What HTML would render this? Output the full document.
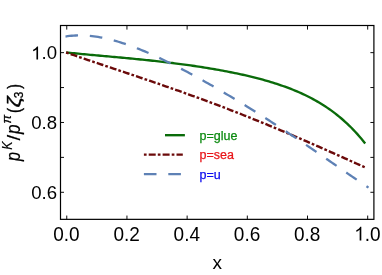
<!DOCTYPE html>
<html><head><meta charset="utf-8"><style>
html,body{margin:0;padding:0;background:#fff;}
svg{display:block;will-change:transform;font-family:"Liberation Sans",sans-serif;}
</style></head><body>
<svg width="382" height="275" viewBox="0 0 382 275">
<rect width="382" height="275" fill="#fff"/>
<g fill="none" stroke-linecap="butt" stroke-linejoin="round">
<path d="M66.25,52.50 L68.26,52.70 L70.26,52.90 L72.27,53.10 L74.28,53.29 L76.28,53.49 L78.29,53.68 L80.29,53.87 L82.30,54.06 L84.31,54.24 L86.31,54.43 L88.32,54.62 L90.33,54.80 L92.33,54.99 L94.34,55.17 L96.35,55.35 L98.35,55.53 L100.36,55.72 L102.36,55.90 L104.37,56.08 L106.38,56.26 L108.38,56.44 L110.39,56.62 L112.40,56.81 L114.40,56.99 L116.41,57.17 L118.42,57.36 L120.42,57.54 L122.43,57.73 L124.43,57.92 L126.44,58.10 L128.45,58.29 L130.45,58.48 L132.46,58.68 L134.47,58.87 L136.47,59.07 L138.48,59.27 L140.49,59.47 L142.49,59.67 L144.50,59.88 L146.51,60.08 L148.51,60.29 L150.52,60.51 L152.52,60.72 L154.53,60.94 L156.54,61.16 L158.54,61.39 L160.55,61.61 L162.56,61.84 L164.56,62.08 L166.57,62.31 L168.58,62.55 L170.58,62.80 L172.59,63.04 L174.59,63.30 L176.60,63.55 L178.61,63.81 L180.61,64.07 L182.62,64.34 L184.63,64.61 L186.63,64.89 L188.64,65.17 L190.65,65.45 L192.65,65.74 L194.66,66.03 L196.66,66.33 L198.67,66.63 L200.68,66.94 L202.68,67.25 L204.69,67.57 L206.70,67.89 L208.70,68.22 L210.71,68.56 L212.72,68.90 L214.72,69.24 L216.73,69.59 L218.73,69.95 L220.74,70.31 L222.75,70.68 L224.75,71.06 L226.76,71.44 L228.77,71.83 L230.77,72.23 L232.78,72.63 L234.79,73.04 L236.79,73.46 L238.80,73.89 L240.80,74.32 L242.81,74.77 L244.82,75.22 L246.82,75.68 L248.83,76.15 L250.84,76.63 L252.84,77.12 L254.85,77.63 L256.86,78.14 L258.86,78.66 L260.87,79.20 L262.87,79.74 L264.88,80.30 L266.89,80.87 L268.89,81.46 L270.90,82.06 L272.91,82.67 L274.91,83.30 L276.92,83.95 L278.93,84.61 L280.93,85.29 L282.94,85.99 L284.94,86.70 L286.95,87.43 L288.96,88.19 L290.96,88.96 L292.97,89.76 L294.98,90.58 L296.98,91.42 L298.99,92.29 L301.00,93.18 L303.00,94.10 L305.01,95.04 L307.02,96.02 L309.02,97.02 L311.03,98.06 L313.03,99.13 L315.04,100.23 L317.05,101.36 L319.05,102.53 L321.06,103.74 L323.07,104.99 L325.07,106.28 L327.08,107.61 L329.09,108.99 L331.09,110.41 L333.10,111.88 L335.10,113.39 L337.11,114.96 L339.12,116.58 L341.12,118.26 L343.13,119.99 L345.14,121.78 L347.14,123.63 L349.15,125.55 L351.16,127.53 L353.16,129.58 L355.17,131.70 L357.17,133.89 L359.18,136.16 L361.19,138.50 L363.19,140.93 L365.20,143.44" stroke="#0a6b0a" stroke-width="2.35"/>
<path d="M66.00,52.47 L68.01,53.16 L70.01,53.86 L72.02,54.55 L74.02,55.24 L76.03,55.93 L78.04,56.62 L80.04,57.30 L82.05,57.99 L84.05,58.67 L86.06,59.35 L88.07,60.03 L90.07,60.71 L92.08,61.39 L94.08,62.06 L96.09,62.74 L98.10,63.41 L100.10,64.09 L102.11,64.76 L104.11,65.43 L106.12,66.10 L108.13,66.78 L110.13,67.45 L112.14,68.12 L114.14,68.79 L116.15,69.46 L118.16,70.14 L120.16,70.81 L122.17,71.48 L124.18,72.15 L126.18,72.83 L128.19,73.50 L130.19,74.18 L132.20,74.85 L134.21,75.53 L136.21,76.20 L138.22,76.88 L140.22,77.56 L142.23,78.24 L144.24,78.92 L146.24,79.60 L148.25,80.29 L150.25,80.97 L152.26,81.66 L154.27,82.35 L156.27,83.04 L158.28,83.73 L160.28,84.42 L162.29,85.11 L164.30,85.81 L166.30,86.51 L168.31,87.21 L170.31,87.91 L172.32,88.61 L174.33,89.32 L176.33,90.02 L178.34,90.73 L180.34,91.45 L182.35,92.16 L184.36,92.88 L186.36,93.59 L188.37,94.32 L190.37,95.04 L192.38,95.76 L194.39,96.49 L196.39,97.22 L198.40,97.95 L200.40,98.69 L202.41,99.43 L204.42,100.17 L206.42,100.91 L208.43,101.65 L210.43,102.40 L212.44,103.15 L214.45,103.91 L216.45,104.66 L218.46,105.42 L220.47,106.18 L222.47,106.95 L224.48,107.71 L226.48,108.48 L228.49,109.25 L230.50,110.03 L232.50,110.81 L234.51,111.59 L236.51,112.37 L238.52,113.16 L240.53,113.94 L242.53,114.74 L244.54,115.53 L246.54,116.33 L248.55,117.13 L250.56,117.93 L252.56,118.73 L254.57,119.54 L256.57,120.35 L258.58,121.17 L260.59,121.98 L262.59,122.80 L264.60,123.62 L266.60,124.45 L268.61,125.27 L270.62,126.10 L272.62,126.94 L274.63,127.77 L276.63,128.61 L278.64,129.45 L280.65,130.29 L282.65,131.13 L284.66,131.98 L286.66,132.83 L288.67,133.68 L290.68,134.54 L292.68,135.39 L294.69,136.25 L296.69,137.11 L298.70,137.98 L300.71,138.84 L302.71,139.71 L304.72,140.58 L306.72,141.45 L308.73,142.32 L310.74,143.20 L312.74,144.07 L314.75,144.95 L316.76,145.83 L318.76,146.72 L320.77,147.60 L322.77,148.49 L324.78,149.37 L326.79,150.26 L328.79,151.15 L330.80,152.04 L332.80,152.94 L334.81,153.83 L336.82,154.73 L338.82,155.62 L340.83,156.52 L342.83,157.42 L344.84,158.32 L346.85,159.22 L348.85,160.12 L350.86,161.02 L352.86,161.92 L354.87,162.83 L356.88,163.73 L358.88,164.63 L360.89,165.54 L362.89,166.44 L364.90,167.34" stroke="#6b0a0a" stroke-width="2.4" stroke-dasharray="2.7 2.1 6.9 2.1" stroke-dashoffset="-0.1"/>
<path d="M65.50,36.52 L67.53,36.21 L69.57,35.96 L71.60,35.75 L73.63,35.59 L75.67,35.48 L77.70,35.41 L79.73,35.39 L81.77,35.41 L83.80,35.47 L85.84,35.57 L87.87,35.71 L89.90,35.89 L91.94,36.10 L93.97,36.35 L96.00,36.64 L98.04,36.96 L100.07,37.31 L102.10,37.69 L104.14,38.10 L106.17,38.54 L108.20,39.01 L110.24,39.51 L112.27,40.03 L114.31,40.58 L116.34,41.16 L118.37,41.76 L120.41,42.38 L122.44,43.03 L124.47,43.69 L126.51,44.38 L128.54,45.09 L130.57,45.82 L132.61,46.57 L134.64,47.33 L136.67,48.12 L138.71,48.92 L140.74,49.74 L142.78,50.57 L144.81,51.42 L146.84,52.28 L148.88,53.16 L150.91,54.06 L152.94,54.97 L154.98,55.89 L157.01,56.82 L159.04,57.76 L161.08,58.72 L163.11,59.69 L165.14,60.67 L167.18,61.66 L169.21,62.66 L171.24,63.67 L173.28,64.69 L175.31,65.72 L177.35,66.76 L179.38,67.81 L181.41,68.87 L183.45,69.93 L185.48,71.01 L187.51,72.09 L189.55,73.18 L191.58,74.27 L193.61,75.38 L195.65,76.49 L197.68,77.61 L199.71,78.73 L201.75,79.86 L203.78,81.00 L205.82,82.14 L207.85,83.30 L209.88,84.45 L211.92,85.61 L213.95,86.78 L215.98,87.96 L218.02,89.14 L220.05,90.32 L222.08,91.51 L224.12,92.71 L226.15,93.91 L228.18,95.12 L230.22,96.33 L232.25,97.55 L234.29,98.77 L236.32,100.00 L238.35,101.23 L240.39,102.47 L242.42,103.71 L244.45,104.96 L246.49,106.21 L248.52,107.47 L250.55,108.73 L252.59,110.00 L254.62,111.27 L256.65,112.55 L258.69,113.83 L260.72,115.11 L262.76,116.40 L264.79,117.70 L266.82,119.00 L268.86,120.30 L270.89,121.61 L272.92,122.92 L274.96,124.24 L276.99,125.56 L279.02,126.89 L281.06,128.22 L283.09,129.56 L285.12,130.90 L287.16,132.24 L289.19,133.59 L291.22,134.94 L293.26,136.29 L295.29,137.65 L297.33,139.01 L299.36,140.38 L301.39,141.75 L303.43,143.12 L305.46,144.50 L307.49,145.88 L309.53,147.26 L311.56,148.65 L313.59,150.03 L315.63,151.42 L317.66,152.82 L319.69,154.21 L321.73,155.61 L323.76,157.01 L325.80,158.41 L327.83,159.81 L329.86,161.21 L331.90,162.62 L333.93,164.02 L335.96,165.42 L338.00,166.83 L340.03,168.23 L342.06,169.63 L344.10,171.04 L346.13,172.44 L348.16,173.84 L350.20,175.23 L352.23,176.63 L354.27,178.02 L356.30,179.41 L358.33,180.79 L360.37,182.17 L362.40,183.55 L364.43,184.92 L366.47,186.28 L368.50,187.64" stroke="#5E81B5" stroke-width="2.3" stroke-dasharray="12.6 11.8"/>
</g>
<rect x="60.5" y="25.5" width="313.4" height="193.85" fill="none" stroke="#000" stroke-width="1.2"/>
<g stroke="#000" stroke-width="0.95" fill="none"><path d="M66.75,219.35 v-3.8 M66.75,25.5 v4.1"/><path d="M126.94,219.35 v-3.8 M126.94,25.5 v4.1"/><path d="M187.13,219.35 v-3.8 M187.13,25.5 v4.1"/><path d="M247.32,219.35 v-3.8 M247.32,25.5 v4.1"/><path d="M307.51,219.35 v-3.8 M307.51,25.5 v4.1"/><path d="M367.70,219.35 v-3.8 M367.70,25.5 v4.1"/><path d="M60.5,192.29 h3.5 M373.9,192.29 h-3.5"/><path d="M60.5,157.38 h3.5 M373.9,157.38 h-3.5"/><path d="M60.5,122.47 h3.5 M373.9,122.47 h-3.5"/><path d="M60.5,87.56 h3.5 M373.9,87.56 h-3.5"/><path d="M60.5,52.65 h3.5 M373.9,52.65 h-3.5"/></g>
<g font-size="19px" fill="#000"><text font-size="19.0px" transform="translate(53.19,240.50) scale(1,1.04)">0.0</text><text font-size="19.0px" transform="translate(113.40,240.50) scale(1,1.04)">0.2</text><text font-size="19.0px" transform="translate(173.61,240.50) scale(1,1.04)">0.4</text><text font-size="19.0px" transform="translate(233.82,240.50) scale(1,1.04)">0.6</text><text font-size="19.0px" transform="translate(294.03,240.50) scale(1,1.04)">0.8</text><path transform="translate(354.24,240.50) scale(0.009277,-0.009277)" d="M763 0 H583 V1147 Q518 1085 412.5 1023 Q307 961 223 930 V1104 Q374 1175 487 1276 Q600 1377 647 1472 H763 Z"/><text font-size="19.0px" transform="translate(364.81,240.50) scale(1,1.04)">.0</text><text font-size="18.6px" transform="translate(31.14,199.04) scale(1,1.0)">0.6</text><text font-size="18.6px" transform="translate(31.14,129.22) scale(1,1.0)">0.8</text><path transform="translate(31.14,59.40) scale(0.009082,-0.008733)" d="M763 0 H583 V1147 Q518 1085 412.5 1023 Q307 961 223 930 V1104 Q374 1175 487 1276 Q600 1377 647 1472 H763 Z"/><text font-size="18.6px" transform="translate(41.49,59.40) scale(1,1.0)">.0</text></g>
<text x="217.3" y="268.7" font-size="19px" text-anchor="middle" fill="#000">x</text>
<g transform="rotate(-90)" fill="#000"><text transform="matrix(0.8136 0 0 0.9866 -160.893 19.756)" font-size="20.0px" font-style="italic" stroke="#000" stroke-width="0.2">p</text><text transform="matrix(0.6194 0 0 0.7029 -149.872 11.500)" font-size="20.0px" font-style="italic" stroke="#000" stroke-width="0.2">K</text><text transform="matrix(1.0182 0 0 0.9116 -140.400 19.918)" font-size="20.0px" font-style="normal" stroke="#000" stroke-width="0.2">/</text><text transform="matrix(0.8545 0 0 0.9732 -134.073 19.813)" font-size="20.0px" font-style="italic" stroke="#000" stroke-width="0.2">p</text><text transform="matrix(0.6406 0 0 0.6065 -123.577 11.079)" font-size="20.0px" font-style="italic" stroke="#000" stroke-width="0.45">π</text><text transform="matrix(0.7547 0 0 0.9144 -112.906 19.559)" font-size="20.0px" font-style="normal" stroke="#000" stroke-width="0.45">(</text><text transform="matrix(1.1789 0 0 0.9227 -107.607 19.971)" font-size="20.0px" font-style="italic" stroke="#000" stroke-width="0.45">ζ</text><text transform="matrix(0.5957 0 0 0.6092 -98.277 23.078)" font-size="20.0px" font-style="normal" stroke="#000" stroke-width="0.45">3</text><text transform="matrix(0.6923 0 0 0.9144 -88.838 19.559)" font-size="20.0px" font-style="normal" stroke="#000" stroke-width="0.45">)</text></g>
<g fill="none">
<path d="M165.0,135.2 H184.9" stroke="#0a6b0a" stroke-width="2.35"/>
<path d="M143.9,154.6 H182.8" stroke="#6b0a0a" stroke-width="2.4" stroke-dasharray="2.7 2.1 7.0 2.1"/>
<path d="M143.9,174.2 H181.2" stroke="#5E81B5" stroke-width="2.3" stroke-dasharray="12.6 11.8"/>
</g>
<g font-size="12.5px" stroke-width="0.25">
<text x="199.6" y="139.9" fill="#0c8a10" stroke="#0c8a10">p=glue</text>
<text x="199.6" y="159.4" fill="#e81418" stroke="#e81418">p=sea</text>
<text x="199.6" y="178.9" fill="#0c0cee" stroke="#0c0cee">p=u</text>
</g>
</svg>
</body></html>
